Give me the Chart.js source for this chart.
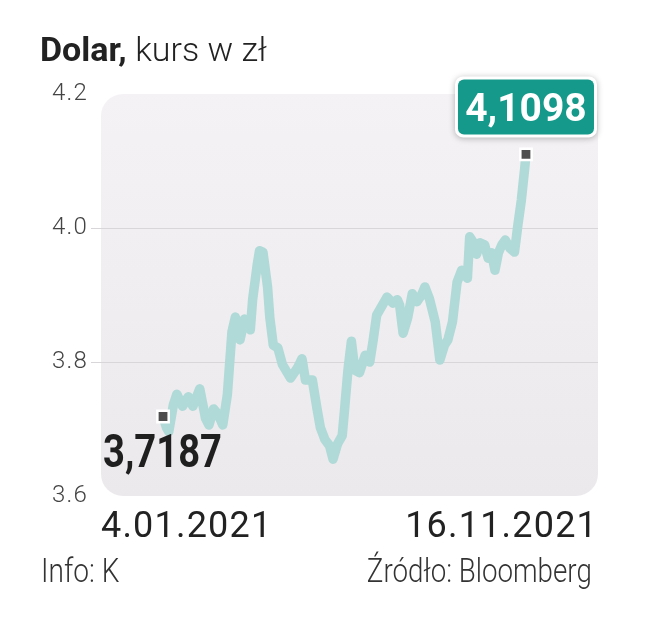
<!DOCTYPE html>
<html lang="pl">
<head>
<meta charset="utf-8">
<title>Dolar, kurs w zł</title>
<script src="https://cdn.jsdelivr.net/npm/chart.js@4.4.1/dist/chart.umd.min.js"></script>
<style>
  html, body { margin: 0; padding: 0; background: #fff; }
  #wrap { position: relative; width: 664px; height: 640px; font-family: Roboto, "Noto Sans", sans-serif; color: #222; }
  #chart { position: absolute; left: 0; top: 0; }
  .title { position: absolute; left: 40px; top: 29px; font-size: 34px; line-height: 40px; white-space: nowrap; }
  .title b { font-weight: 700; }
  .title span { font-weight: 300; }
  .foot { position: absolute; top: 552px; font-size: 33px; line-height: 38px; font-weight: 300; color: #333; white-space: nowrap; }
  .foot.left { left: 41px; transform: scaleX(0.85); transform-origin: left center; }
  .foot.right { right: 72px; transform: scaleX(0.84); transform-origin: right center; }
</style>
</head>
<body>
<div id="wrap">
  <canvas id="chart" width="664" height="640"></canvas>
  <div class="title"><b>Dolar,</b> <span>kurs w zł</span></div>
  <div class="foot left">Info: K</div>
  <div class="foot right">Źródło: Bloomberg</div>
</div>
<script>
// ─── Data ───────────────────────────────────────────────────────────
// days counted from 4.01.2021
const dni = [0, 3, 5, 9, 12, 17, 22, 26, 32, 37, 40, 44, 48, 52, 56, 60, 63, 67, 71, 76,
  78, 82, 84, 87, 91, 93, 96, 100, 104, 111, 117, 121, 124, 130, 134, 137, 141, 145, 148, 152,
  156, 158, 161, 164, 167, 171, 176, 180, 183, 186, 191, 195, 200, 204, 206, 209, 213, 217, 221, 225,
  228, 232, 237, 241, 245, 248, 252, 256, 260, 265, 267, 270, 273, 276, 280, 283, 286, 289, 292, 295,
  298, 302, 306, 309, 312, 315, 316];
const kurs = [3.7187, 3.702, 3.696, 3.736, 3.752, 3.734, 3.748, 3.734, 3.760, 3.716,
  3.706, 3.730, 3.722, 3.706, 3.751, 3.845, 3.867, 3.833, 3.864, 3.848,
  3.893, 3.945, 3.966, 3.964, 3.912, 3.866, 3.825, 3.821, 3.796, 3.776,
  3.791, 3.805, 3.773, 3.773, 3.731, 3.702, 3.684, 3.675, 3.655, 3.678,
  3.690, 3.728, 3.788, 3.831, 3.788, 3.784, 3.810, 3.800, 3.833, 3.870,
  3.885, 3.897, 3.888, 3.893, 3.885, 3.843, 3.866, 3.902, 3.890, 3.900,
  3.912, 3.894, 3.860, 3.803, 3.825, 3.833, 3.860, 3.919, 3.937, 3.925,
  3.987, 3.979, 3.961, 3.978, 3.975, 3.955, 3.963, 3.937, 3.963, 3.975,
  3.982, 3.970, 3.964, 4.005, 4.042, 4.091, 4.1098];
const dateLabels = ["4.01.2021", "16.11.2021"];
const yTicks = [3.6, 3.8, 4.0, 4.2];
const gridValues = [3.8, 4.0];

// ─── Colors ──────────────────────────────────────────────────────────
const LINE_COLOR = "#b0dad7";
const BOX_COLOR = "#15998a";
const GRID_COLOR = "#d9d6da";

const points = dni.map((d, i) => ({ x: d, y: kurs[i] }));
const lastIdx = points.length - 1;

function fmtPL(v) {
  return v.toFixed(4).replace(".", ",");
}

function roundRect(ctx, x, y, w, h, r) {
  ctx.beginPath();
  ctx.moveTo(x + r, y);
  ctx.arcTo(x + w, y, x + w, y + h, r);
  ctx.arcTo(x + w, y + h, x, y + h, r);
  ctx.arcTo(x, y + h, x, y, r);
  ctx.arcTo(x, y, x + w, y, r);
  ctx.closePath();
}

// rounded, softly shaded plot background
const plotBackground = {
  id: "plotBackground",
  beforeDraw(chart) {
    const { ctx, chartArea: a } = chart;
    ctx.save();
    const g = ctx.createLinearGradient(0, a.top, 0, a.bottom);
    g.addColorStop(0, "#f5f2f5");
    g.addColorStop(1, "#ece9ed");
    ctx.fillStyle = g;
    roundRect(ctx, a.left, a.top, a.right - a.left, a.bottom - a.top, 22);
    ctx.fill();
    ctx.restore();
  },
};

// wider letter spacing for the date labels
const dateSpacing = {
  id: "dateSpacing",
  beforeDraw(chart) { chart.ctx.letterSpacing = "1.2px"; },
  beforeDatasetsDraw(chart) { chart.ctx.letterSpacing = "0px"; },
};

// first / last value labels
const valueLabels = {
  id: "valueLabels",
  afterDatasetsDraw(chart) {
    const { ctx, scales } = chart;
    const x0 = scales.x.getPixelForValue(points[0].x);
    const y0 = scales.y.getPixelForValue(points[0].y);
    const x1 = scales.x.getPixelForValue(points[lastIdx].x);
    const y1 = scales.y.getPixelForValue(points[lastIdx].y);

    // start value, plain bold text under the point
    ctx.save();
    ctx.fillStyle = "#1f1f1f";
    ctx.font = "700 46px Roboto";
    ctx.textBaseline = "alphabetic";
    ctx.textAlign = "left";
    ctx.translate(x0 - 60, y0 + 51);
    ctx.scale(0.83, 1);
    ctx.fillText(fmtPL(points[0].y), 0, 0);
    ctx.restore();

    // end value, white text in a teal box above the point
    const w = 142, h = 61;
    const bx = x1 - w / 2, by = y1 - 17 - h;
    ctx.save();
    ctx.shadowColor = "rgba(0,0,0,0.28)";
    ctx.shadowBlur = 6;
    ctx.shadowOffsetY = 1;
    ctx.fillStyle = "#ffffff";
    roundRect(ctx, bx, by, w, h, 8);
    ctx.fill();
    ctx.restore();
    ctx.save();
    ctx.fillStyle = BOX_COLOR;
    roundRect(ctx, bx + 3, by + 3, w - 6, h - 6, 6);
    ctx.fill();
    ctx.fillStyle = "#ffffff";
    ctx.font = "700 39px Roboto";
    ctx.textAlign = "center";
    ctx.textBaseline = "alphabetic";
    ctx.fillText(fmtPL(points[lastIdx].y), x1, by + h - 16);
    ctx.restore();
  },
};

new Chart(document.getElementById("chart").getContext("2d"), {
  type: "line",
  data: {
    datasets: [
      {
        data: points,
        borderColor: LINE_COLOR,
        borderWidth: 9.5,
        borderJoinStyle: "round",
        borderCapStyle: "round",
        tension: 0,
        fill: false,
        pointStyle: "rect",
        pointRadius: points.map((_, i) => (i === 0 || i === lastIdx ? 8 : 0)),
        pointBackgroundColor: "#4d4d4d",
        pointBorderColor: "#ffffff",
        pointBorderWidth: 2.5,
      },
    ],
  },
  options: {
    responsive: false,
    animation: false,
    events: [],
    layout: { padding: { left: 0, right: 66, top: 94, bottom: 94 } },
    plugins: {
      legend: { display: false },
      tooltip: { enabled: false },
    },
    scales: {
      x: {
        type: "linear",
        min: -54,
        max: 378.7,
        grid: { display: false, drawTicks: false },
        border: { display: false },
        afterBuildTicks: (scale) => {
          scale.ticks = [{ value: scale.min }, { value: scale.max }];
        },
        afterFit: (scale) => { scale.height = 50; },
        ticks: {
          align: "inner",
          maxRotation: 0,
          autoSkip: false,
          padding: 10,
          color: "#222",
          font: { family: "Roboto", size: 36, weight: "400" },
          callback: (value, index) => dateLabels[index],
        },
      },
      y: {
        min: 3.6,
        max: 4.2,
        afterBuildTicks: (scale) => {
          scale.ticks = yTicks.map((v) => ({ value: v }));
        },
        afterFit: (scale) => { scale.width = 101; },
        border: { display: false },
        grid: {
          color: (c) => (gridValues.some((v) => Math.abs(v - c.tick.value) < 1e-6) ? GRID_COLOR : "rgba(0,0,0,0)"),
          tickLength: 10,
          lineWidth: 1,
        },
        ticks: {
          padding: 3,
          color: "#444",
          font: { family: "Roboto", size: 24, weight: "300" },
          callback: (v) => Number(v).toFixed(1),
        },
      },
    },
  },
  plugins: [plotBackground, dateSpacing, valueLabels],
});
</script>
</body>
</html>
